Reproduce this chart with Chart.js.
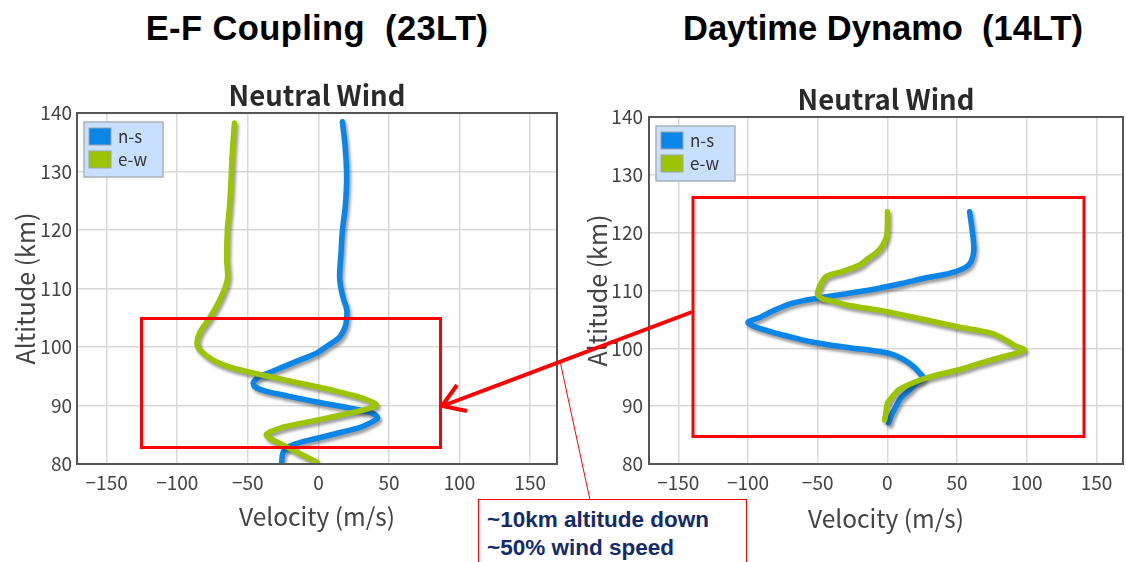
<!DOCTYPE html>
<html>
<head>
<meta charset="utf-8">
<script src="https://cdn.jsdelivr.net/npm/chart.js@4.4.1/dist/chart.umd.min.js"></script>
<style>
html,body{margin:0;padding:0;background:#fff;}
body{width:1126px;height:562px;position:relative;overflow:hidden;font-family:"Liberation Sans",Arial,sans-serif;}
.head{position:absolute;top:11px;font-weight:bold;font-size:34.5px;line-height:1;color:#000;white-space:pre;transform:translateX(-50%);}
canvas{position:absolute;}
#overlay{position:absolute;left:0;top:0;z-index:5;pointer-events:none;}
.note{position:absolute;left:478px;top:499px;width:269px;height:80px;border:1.5px solid #f00;box-sizing:border-box;background:#fff;z-index:6;}
.note span{position:absolute;left:8px;font-weight:bold;font-size:22.5px;line-height:1;color:#132a6b;white-space:nowrap;}
</style>
</head>
<body>
<div class="head" style="left:317px;letter-spacing:0.4px">E-F Coupling  (23LT)</div>
<div class="head" style="left:883px">Daytime Dynamo  (14LT)</div>
<canvas id="cL" width="565" height="480" style="left:0px;top:70px"></canvas>
<canvas id="cR" width="556" height="480" style="left:570px;top:70px"></canvas>
<svg id="overlay" width="1126" height="562">
  <rect x="141.5" y="318.5" width="299" height="129" fill="none" stroke="#ff0000" stroke-width="3"/>
  <rect x="693" y="197.5" width="391" height="239" fill="none" stroke="#ff0000" stroke-width="3"/>
  <line x1="692" y1="312" x2="445" y2="405" stroke="#ff0000" stroke-width="4"/>
  <polyline points="457,385 442,406 467,411" fill="none" stroke="#ff0000" stroke-width="4" stroke-linejoin="miter"/>
  <line x1="560" y1="361" x2="590" y2="500" stroke="#ff0000" stroke-width="1"/>
</svg>
<div class="note">
  <span style="top:9px">~10km altitude down</span>
  <span style="top:37px">~50% wind speed</span>
</div>
<script>
// ---- data ----
const seriesNames = ['n-s', 'e-w'];
const seriesColors = ['#0a86e8', '#9cc400'];
const panelTitle = 'Neutral Wind';
const altTicks = [80, 90, 100, 110, 120, 130, 140];
const velTicks = [-150, -100, -50, 0, 50, 100, 150];

// Left panel: E-F Coupling (23LT)
const leftNsAlt = [138.5,134,129,124,120,116,112,110,108,106.5,105,103.5,101.7,100.3,99,97.8,96.6,95.6,94.9,94.0,93.2,92.5,91.8,90.6,89.6,88.7,87.9,87.2,86.3,85.3,84.4,83.2,82,80.3];
const leftNsVel = [17,19,20,19,17,16,15,16,18,20,20,19,15,7,-1,-13,-25,-35,-42,-46,-45,-38,-25,-1,22,38,42,38,30,14,-1,-19,-25,-26];
const leftEwAlt = [138.3,133,128,124,120,115,111.5,108,105,102.5,100.7,99.5,97.8,96.5,95.6,94.7,93.8,92.6,91.5,90.6,90.1,89.5,88.7,87.5,86.3,85.5,85.0,84.3,83.6,82,80.3];
const leftEwVel = [-59.5,-61,-62,-63,-64.5,-65,-64.5,-70,-77,-84,-86,-84,-75,-62,-47,-30,-13,10,28,38,41,36,22,-1,-25,-34,-37,-34,-28,-15,-1];

// Right panel: Daytime Dynamo (14LT)
const rightNsAlt = [123.6,120,117,115,114,113,112.2,111.2,110.4,109.5,108.7,107.8,106.5,105.4,104.4,103.2,102,101.1,100.2,99.6,99,98,96.8,95.5,94.8,93.8,92.8,91.5,89.9,88.5,87.1];
const rightNsVel = [59,61,62,60,56,45,28,10,-6,-28,-49,-68,-82,-91,-100,-88,-70,-54,-30,-10,3,12,19,24,26,20,16,10,6,3,1];
const rightEwAlt = [123.6,121,119,117,115.5,114.4,113.3,112.4,111,109.8,109.2,108.6,108.2,107.5,106.6,106.1,104.9,103.7,102.6,101.4,100.5,99.7,98.5,97.4,96.3,94.9,93.8,92.8,91.5,90.5,89,87.6];
const rightEwVel = [0,0,-1,-6,-14,-20,-32,-44,-48,-50,-50,-47,-40,-29,-6,4,28,51,75,85,91,98,82,66,51,28,16,8,3,0,-1,-2];

// ---- chart ----
const FONT = '"Noto Sans CJK JP","Noto Sans",sans-serif';
const pts = (vel, alt) => vel.map((v, i) => ({x: v, y: alt[i]}));

const decor = {
  id: 'decor',
  beforeDatasetDraw(chart) {
    const c = chart.ctx; c.save();
    c.shadowColor = 'rgba(40,40,40,0.45)'; c.shadowBlur = 3; c.shadowOffsetX = 2; c.shadowOffsetY = 3;
  },
  afterDatasetDraw(chart) { chart.ctx.restore(); },
  afterDraw(chart) {
    const c = chart.ctx, a = chart.chartArea;
    c.save();
    c.strokeStyle = '#555'; c.lineWidth = 2;
    c.strokeRect(a.left, a.top, a.right - a.left, a.bottom - a.top);
    // panel title centred on the plot area
    c.fillStyle = '#2a2a2a'; c.font = 'bold 27.5px ' + FONT;
    c.textAlign = 'center'; c.textBaseline = 'alphabetic';
    c.fillText(panelTitle, (a.left + a.right) / 2, a.top - 7);
    // legend
    const x = a.left + 7, y = a.top + 9, w = 79, h = 55;
    c.fillStyle = '#c8e0fd'; c.fillRect(x, y, w, h);
    c.strokeStyle = '#a8b2bd'; c.lineWidth = 1.5; c.strokeRect(x, y, w, h);
    c.font = '17px ' + FONT; c.textBaseline = 'middle'; c.textAlign = 'left';
    seriesNames.forEach((name, i) => {
      const sy = y + 6 + i * 23;
      c.fillStyle = seriesColors[i]; c.fillRect(x + 5, sy, 22, 17);
      c.strokeStyle = '#9aa4ae'; c.lineWidth = 1; c.strokeRect(x + 5, sy, 22, 17);
      c.fillStyle = '#333'; c.fillText(name, x + 34, sy + 9);
    });
    c.restore();
  }
};

function makeChart(id, nsVel, nsAlt, ewVel, ewAlt, L) {
  return new Chart(document.getElementById(id), {
    type: 'scatter',
    data: {
      datasets: [
        {label: seriesNames[0], data: pts(nsVel, nsAlt), borderColor: seriesColors[0], backgroundColor: seriesColors[0], order: 1},
        {label: seriesNames[1], data: pts(ewVel, ewAlt), borderColor: seriesColors[1], backgroundColor: seriesColors[1], order: 0}
      ]
    },
    options: {
      responsive: false, animation: false,
      showLine: true,
      elements: {point: {radius: 0, hoverRadius: 0}, line: {borderWidth: 5.5, tension: 0.35, borderCapStyle: 'round', borderJoinStyle: 'round'}},
      layout: {padding: {top: L.top, right: L.right, bottom: 0, left: 0}},
      plugins: {legend: {display: false}, tooltip: {enabled: false}, title: {display: false}},
      scales: {
        x: {
          type: 'linear', min: -171, max: 169,
          afterBuildTicks: s => { s.ticks = velTicks.map(v => ({value: v})); },
          afterFit: s => { s.height = 86; },
          grid: {color: '#d9d9d9', lineWidth: 1.5, drawTicks: false},
          border: {display: false},
          ticks: {color: '#444', font: {family: FONT, size: 19}, padding: 7, maxRotation: 0,
                  callback: v => (v < 0 ? '\u2212' + Math.abs(v) : '' + v)},
          title: {display: true, text: 'Velocity (m/s)', color: '#444', font: {family: FONT, size: 24.5, lineHeight: 1.2},
                  padding: {top: 0, bottom: L.xTitleB}}
        },
        y: {
          type: 'linear', min: 80, max: 140,
          afterBuildTicks: s => { s.ticks = altTicks.map(v => ({value: v})); },
          afterFit: s => { s.width = L.yW; },
          grid: {color: '#d9d9d9', lineWidth: 1.5, drawTicks: false},
          border: {display: false},
          ticks: {color: '#444', font: {family: FONT, size: 19}, padding: L.yPad},
          title: {display: true, text: 'Altitude (km)', color: '#444', font: {family: FONT, size: 25, lineHeight: 1.2},
                  padding: {top: L.yTitleT, bottom: 0}}
        }
      }
    },
    plugins: [decor]
  });
}

makeChart('cL', leftNsVel, leftNsAlt, leftEwVel, leftEwAlt,
  {top: 43, right: 8, xTitleB: 18.6, yW: 77, yPad: 5, yTitleT: 10});
makeChart('cR', rightNsVel, rightNsAlt, rightEwVel, rightEwAlt,
  {top: 47, right: 3, xTitleB: 16.6, yW: 79, yPad: 6, yTitleT: 12});
</script>
</body>
</html>
